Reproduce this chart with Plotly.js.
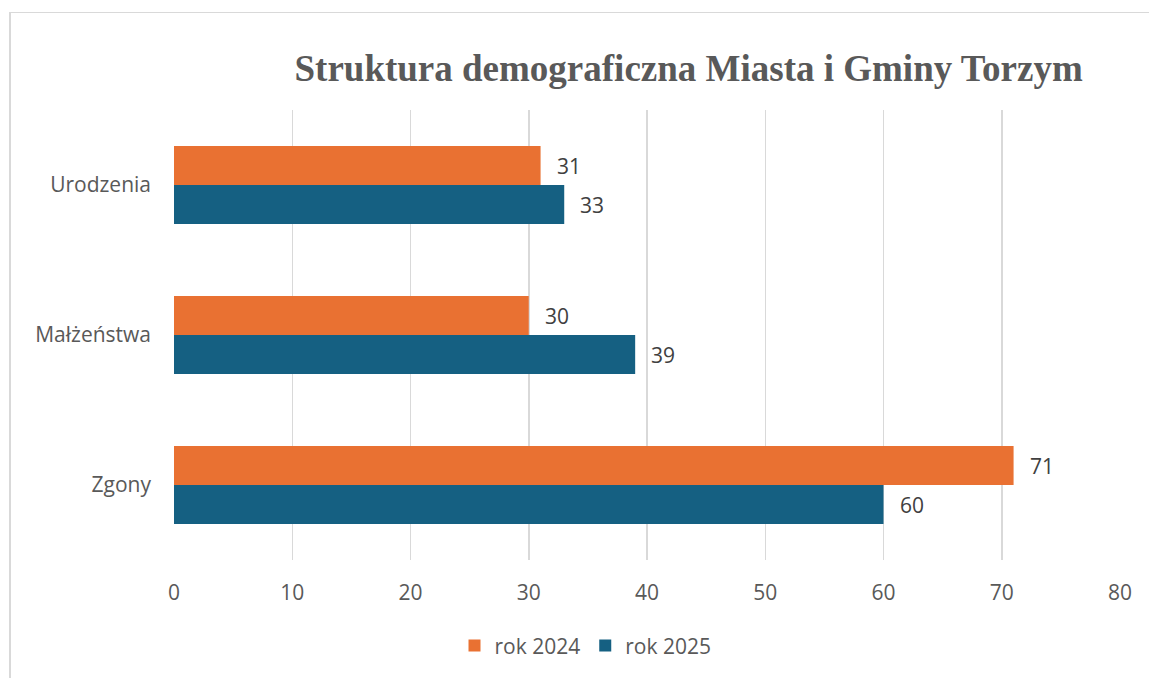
<!DOCTYPE html>
<html>
<head>
<meta charset="utf-8">
<script src="https://cdn.plot.ly/plotly-3.0.1.min.js"></script>
<style>
  html, body { margin: 0; padding: 0; background: #fff; }
  #wrap { position: relative; width: 1149px; height: 678px; overflow: hidden; }
  #frame { position: absolute; left: 9px; top: 12px; width: 1200px; height: 700px; border-left: 2px solid #d9d9d9; border-top: 1.5px solid #d9d9d9; box-sizing: border-box; pointer-events: none; }
  #chart { position: absolute; left: 0; top: 0; width: 1149px; height: 678px; }
</style>
</head>
<body>
<div id="wrap">
  <div id="chart"></div>
  <div id="frame"></div>
</div>
<script>
const categories = ["Urodzenia", "Małżeństwa", "Zgony"];
const seriesNames = ["rok 2024", "rok 2025"];
const values2024 = [31, 30, 71];
const values2025 = [33, 39, 60];
const xTicks = [0, 10, 20, 30, 40, 50, 60, 70, 80];
const colors = ["#E97132", "#156082"];

const font = "'Open Sans', 'Noto Sans', sans-serif";

const traces = [
  { type: "bar", orientation: "h", name: seriesNames[0], y: categories, x: values2024,
    marker: { color: colors[0] }, hoverinfo: "x+y" },
  { type: "bar", orientation: "h", name: seriesNames[1], y: categories, x: values2025,
    marker: { color: colors[1] }, hoverinfo: "x+y" }
];

const annotations = [];
[values2024, values2025].forEach((vals, si) => {
  vals.forEach((v, i) => {
    annotations.push({
      x: v, y: categories[i], xref: "x", yref: "y",
      text: String(v), showarrow: false, xanchor: "left", yanchor: "middle",
      xshift: 14, yshift: si === 0 ? 19.5 : -19.5,
      font: { family: font, size: 21, color: "#404040" }
    });
  });
});

const layout = {
  width: 1149, height: 678,
  margin: { l: 174, r: 29, t: 110, b: 118 },
  paper_bgcolor: "#ffffff", plot_bgcolor: "#ffffff",
  barmode: "group", bargap: 0.48, bargroupgap: 0,
  title: {
    text: "<b>Struktura demograficzna Miasta i Gminy Torzym</b>",
    font: { family: "'Liberation Serif', 'Times New Roman', serif", size: 37, color: "#595959" },
    x: 0.544, xref: "paper", xanchor: "center",
    y: 0.9, yref: "container", yanchor: "middle"
  },
  xaxis: {
    range: [0, 80], tickvals: xTicks, ticktext: xTicks.map(String),
    showgrid: true, gridcolor: "#d9d9d9", gridwidth: 1.5,
    zeroline: false, showline: false, ticks: "",
    ticklabelstandoff: 18,
    tickfont: { family: font, size: 21, color: "#595959" },
    fixedrange: true
  },
  yaxis: {
    autorange: "reversed", type: "category",
    showgrid: false, zeroline: false, showline: false, ticks: "",
    ticklabelstandoff: 22,
    tickfont: { family: font, size: 21, color: "#595959" },
    fixedrange: true
  },
  showlegend: true,
  legend: {
    orientation: "h", x: 0.435, xanchor: "center", y: -0.145, yanchor: "top",
    traceorder: "normal",
    font: { family: font, size: 21, color: "#595959" },
    itemwidth: 30
  },
  annotations: annotations
};

Plotly.newPlot("chart", traces, layout, { displayModeBar: false, staticPlot: true });
</script>
</body>
</html>
